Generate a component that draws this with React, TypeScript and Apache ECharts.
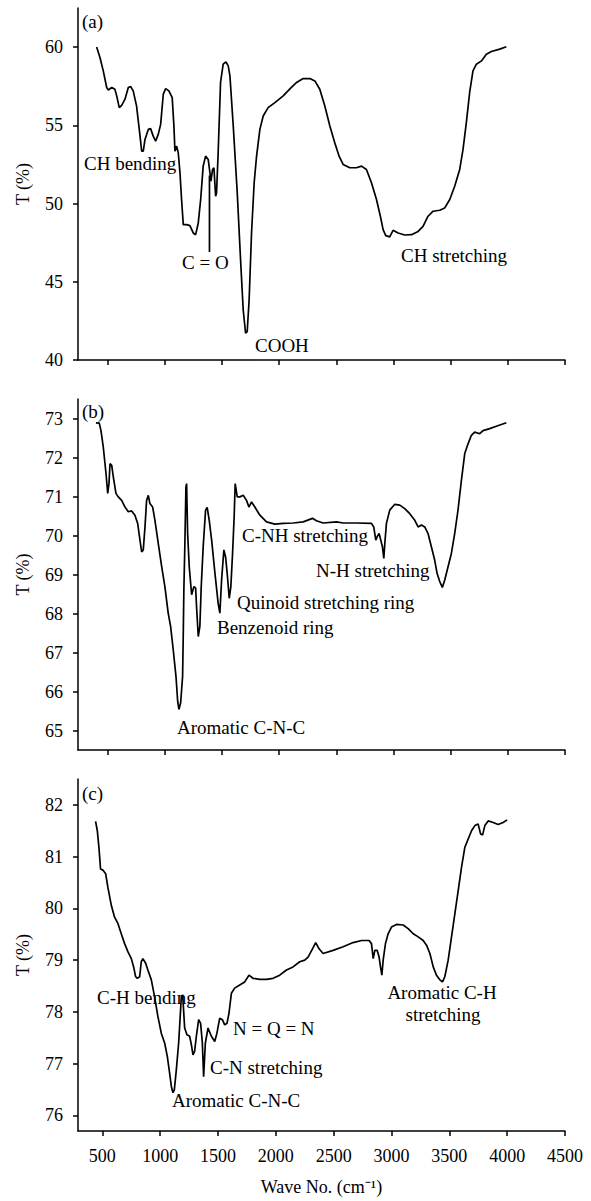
import React, { useEffect, useRef } from "react";
import * as echarts from "echarts";

// ---------- Data ----------
// Panel (a)
const waveA = [403, 432, 461, 491, 505, 535, 563, 578, 601, 622, 651, 680, 700, 723, 752, 776, 797, 811, 826, 855, 875, 898, 919, 942, 963, 986, 1007, 1035, 1064, 1079, 1088, 1103, 1117, 1132, 1146, 1161, 1190, 1219, 1248, 1269, 1292, 1313, 1335, 1356, 1379, 1394, 1403, 1417, 1429, 1444, 1452, 1466, 1487, 1510, 1534, 1554, 1569, 1598, 1633, 1662, 1685, 1706, 1720, 1737, 1758, 1781, 1802, 1831, 1860, 1903, 1962, 2035, 2100, 2152, 2210, 2268, 2312, 2355, 2399, 2443, 2486, 2524, 2559, 2618, 2676, 2720, 2763, 2807, 2851, 2885, 2909, 2932, 2967, 2996, 3040, 3098, 3157, 3215, 3258, 3302, 3346, 3404, 3448, 3492, 3535, 3579, 3608, 3637, 3666, 3695, 3725, 3769, 3812, 3856, 3929, 3987];
const transA = [60.0, 59.34, 58.48, 57.42, 57.26, 57.42, 57.3, 56.9, 56.13, 56.28, 56.67, 57.42, 57.48, 57.2, 56.24, 54.74, 53.35, 53.35, 54.1, 54.74, 54.79, 54.31, 53.99, 54.42, 55.06, 56.99, 57.35, 57.2, 56.77, 54.96, 53.35, 53.67, 53.25, 51.97, 50.26, 48.65, 48.65, 48.59, 48.12, 48.01, 48.76, 50.26, 52.39, 53.03, 52.82, 51.97, 51.43, 52.18, 52.29, 50.47, 50.69, 53.25, 57.74, 58.91, 59.06, 58.8, 58.16, 54.96, 50.69, 46.41, 43.21, 41.71, 41.81, 43.85, 48.12, 51.33, 53.03, 54.74, 55.6, 56.13, 56.45, 56.88, 57.38, 57.74, 57.99, 57.99, 57.84, 57.31, 56.24, 54.96, 53.89, 53.03, 52.5, 52.29, 52.29, 52.39, 52.18, 51.33, 50.26, 49.19, 48.33, 47.95, 47.87, 48.29, 48.12, 47.99, 48.01, 48.22, 48.54, 49.19, 49.51, 49.57, 49.72, 50.26, 51.11, 52.18, 53.46, 55.17, 57.1, 58.48, 58.91, 59.12, 59.55, 59.72, 59.87, 60.02];
const markerWaveA = [1390, 1390];
const markerTransA = [51.8, 46.9];

// Panel (b)
const waveB = [397, 426, 441, 461, 485, 500, 511, 520, 535, 549, 572, 592, 622, 651, 680, 709, 738, 762, 782, 797, 811, 826, 840, 855, 869, 893, 913, 942, 972, 1000, 1029, 1050, 1073, 1097, 1112, 1123, 1138, 1155, 1161, 1166, 1175, 1184, 1190, 1199, 1213, 1234, 1254, 1269, 1277, 1292, 1306, 1318, 1335, 1356, 1370, 1388, 1409, 1438, 1466, 1481, 1496, 1516, 1531, 1545, 1563, 1577, 1592, 1606, 1615, 1633, 1656, 1685, 1714, 1735, 1758, 1787, 1831, 1889, 1962, 2035, 2122, 2210, 2291, 2326, 2384, 2501, 2559, 2676, 2807, 2827, 2845, 2857, 2874, 2903, 2915, 2924, 2938, 2967, 3011, 3055, 3098, 3142, 3186, 3215, 3244, 3273, 3302, 3331, 3360, 3381, 3404, 3427, 3448, 3477, 3506, 3535, 3564, 3594, 3623, 3652, 3681, 3710, 3754, 3783, 3841, 3899, 3987];
const transB = [72.89, 72.88, 72.69, 72.27, 71.59, 71.08, 71.33, 71.84, 71.8, 71.5, 71.08, 70.99, 70.9, 70.73, 70.61, 70.63, 70.52, 70.31, 69.88, 69.58, 69.63, 70.22, 70.9, 71.03, 70.82, 70.73, 70.39, 69.8, 69.2, 68.69, 68.01, 67.67, 67.07, 66.39, 65.75, 65.54, 65.71, 66.39, 67.5, 68.6, 69.8, 71.24, 71.33, 70.05, 69.2, 68.48, 68.69, 68.65, 68.18, 67.41, 67.67, 68.69, 69.71, 70.65, 70.72, 70.39, 69.88, 69.03, 68.26, 68.01, 68.86, 69.63, 69.45, 69.03, 68.39, 68.69, 69.54, 70.48, 71.33, 70.99, 70.99, 71.03, 70.9, 70.73, 70.86, 70.73, 70.52, 70.35, 70.29, 70.31, 70.32, 70.35, 70.44, 70.38, 70.32, 70.35, 70.32, 70.32, 70.31, 70.22, 69.88, 69.97, 70.05, 69.71, 69.41, 69.8, 70.31, 70.65, 70.8, 70.78, 70.69, 70.56, 70.39, 70.22, 70.27, 70.22, 70.05, 69.71, 69.37, 69.03, 68.82, 68.67, 68.86, 69.2, 69.54, 70.05, 70.65, 71.42, 72.1, 72.35, 72.57, 72.65, 72.61, 72.69, 72.74, 72.8, 72.89];

// Panel (c)
const waveC = [442, 457, 471, 485, 505, 529, 548, 578, 606, 635, 664, 693, 722, 751, 771, 788, 803, 823, 837, 851, 875, 894, 924, 952, 981, 1010, 1039, 1062, 1082, 1097, 1111, 1123, 1140, 1160, 1175, 1183, 1195, 1212, 1232, 1255, 1270, 1284, 1298, 1313, 1333, 1350, 1365, 1376, 1391, 1414, 1443, 1472, 1491, 1515, 1538, 1558, 1578, 1595, 1616, 1644, 1688, 1731, 1768, 1803, 1861, 1919, 1976, 2034, 2092, 2149, 2207, 2250, 2279, 2317, 2345, 2374, 2409, 2495, 2582, 2668, 2741, 2806, 2827, 2842, 2856, 2876, 2893, 2905, 2917, 2928, 2948, 2971, 3000, 3043, 3101, 3144, 3188, 3231, 3274, 3303, 3332, 3361, 3389, 3418, 3441, 3461, 3490, 3519, 3548, 3577, 3605, 3634, 3663, 3692, 3721, 3749, 3770, 3788, 3807, 3836, 3879, 3922, 3965, 4000];
const transC = [81.68, 81.5, 81.18, 80.76, 80.74, 80.67, 80.41, 80.06, 79.83, 79.71, 79.51, 79.32, 79.16, 79.03, 78.87, 78.68, 78.65, 78.68, 78.97, 79.03, 78.94, 78.81, 78.62, 78.29, 77.91, 77.59, 77.4, 77.14, 76.82, 76.56, 76.44, 76.5, 76.88, 77.4, 77.97, 78.29, 78.33, 77.69, 77.56, 77.53, 77.37, 77.17, 77.24, 77.53, 77.85, 77.78, 77.4, 76.75, 77.4, 77.69, 77.53, 77.43, 77.59, 77.88, 77.85, 77.75, 77.78, 77.97, 78.36, 78.46, 78.52, 78.58, 78.71, 78.65, 78.63, 78.63, 78.65, 78.71, 78.81, 78.87, 78.97, 79.0, 79.06, 79.22, 79.34, 79.22, 79.13, 79.19, 79.26, 79.34, 79.38, 79.38, 79.32, 79.03, 79.19, 79.19, 79.06, 78.87, 78.71, 79.0, 79.32, 79.51, 79.64, 79.69, 79.68, 79.61, 79.51, 79.45, 79.38, 79.29, 79.13, 78.87, 78.71, 78.62, 78.58, 78.68, 79.0, 79.45, 79.9, 80.35, 80.79, 81.18, 81.34, 81.5, 81.6, 81.63, 81.44, 81.42, 81.6, 81.69, 81.66, 81.62, 81.66, 81.71];

// Ticks
const xTicks = [500, 1000, 1500, 2000, 2500, 3000, 3500, 4000, 4500];
const yTicksA = [40, 45, 50, 55, 60];
const yTicksB = [65, 66, 67, 68, 69, 70, 71, 72, 73];
const yTicksC = [76, 77, 78, 79, 80, 81, 82];

// Text
const panelLabels = ["(a)", "(b)", "(c)"];
const yTitle = "T (%)";
const xTitle = "Wave No. (cm\u207B\u00B9)";

const FONT = "'Liberation Serif', 'Times New Roman', serif";

const zip = (xs: number[], ys: number[]) => xs.map((x, i) => [x, ys[i]]);

export default function App() {
  const ref = useRef<HTMLDivElement>(null);

  useEffect(() => {
    document.body.style.margin = "0";
    if (!ref.current) return;
    const chart = echarts.init(ref.current, undefined, { renderer: "svg" });

    const grids = [
      { left: 78, width: 487, top: 8, height: 352 },
      { left: 78, width: 487, top: 399, height: 351 },
      { left: 78, width: 487, top: 779, height: 352 },
    ];
    const xMins = [240, 240, 290];
    const yRanges = [
      [40, 62.5],
      [64.5, 73.5],
      [75.7, 82.5],
    ];
    const yTicks = [yTicksA, yTicksB, yTicksC];

    const axisLine = { show: true, lineStyle: { color: "#000", width: 1.5 } };

    const xAxis = grids.map((_, i) => ({
      type: "value",
      gridIndex: i,
      min: xMins[i],
      max: 4500,
      axisLine,
      axisTick: { show: true, length: 5, customValues: xTicks, lineStyle: { color: "#000", width: 1.5 } },
      axisLabel: {
        show: i === 2,
        customValues: xTicks,
        formatter: (v: number) => String(v),
        fontSize: 18,
        fontFamily: FONT,
        color: "#000",
        margin: 16,
      },
      splitLine: { show: false },
      name: i === 2 ? xTitle : "",
      nameLocation: "middle",
      nameGap: 47,
      nameTextStyle: { fontSize: 18, fontFamily: FONT, color: "#000" },
    }));

    const yAxis = grids.map((_, i) => ({
      type: "value",
      gridIndex: i,
      min: yRanges[i][0],
      max: yRanges[i][1],
      axisLine,
      axisTick: { show: true, length: 5, customValues: yTicks[i], lineStyle: { color: "#000", width: 1.5 } },
      axisLabel: {
        customValues: yTicks[i],
        formatter: (v: number) => String(v),
        fontSize: 18,
        fontFamily: FONT,
        color: "#000",
        margin: 15,
      },
      splitLine: { show: false },
      name: yTitle,
      nameLocation: "middle",
      nameGap: 46,
      nameTextStyle: { fontSize: 18, fontFamily: FONT, color: "#000" },
    }));

    const lineSeries = (data: number[][], i: number) => ({
      type: "line",
      xAxisIndex: i,
      yAxisIndex: i,
      data,
      symbol: "none",
      showSymbol: false,
      lineStyle: { color: "#000", width: 1.7 },
      silent: true,
    });

    const txt = (text: string, left: number, top: number, align = "left") => ({
      type: "text",
      x: left,
      y: top,
      style: {
        text,
        fill: "#000",
        font: `19px ${FONT}`,
        textAlign: align,
        textVerticalAlign: "middle",
      },
    });

    const graphics = [
      txt(panelLabels[0], 82, 21),
      txt(panelLabels[1], 82, 411),
      txt(panelLabels[2], 82, 793),
      // (a)
      txt("CH bending", 84, 163),
      txt("C = O", 182, 262),
      txt("COOH", 255, 345),
      txt("CH stretching", 401, 255),
      // (b)
      txt("C-NH stretching", 242, 535),
      txt("N-H stretching", 316, 570),
      txt("Quinoid stretching ring", 237, 602),
      txt("Benzenoid ring", 217, 627),
      txt("Aromatic C-N-C", 177, 727),
      // (c)
      txt("C-H bending", 97, 997),
      txt("N = Q = N", 233, 1028),
      txt("C-N stretching", 210, 1067),
      txt("Aromatic C-N-C", 172, 1100),
      txt("Aromatic C-H", 442, 992, "center"),
      txt("stretching", 443, 1014, "center"),
    ];

    chart.setOption({
      animation: false,
      backgroundColor: "#fff",
      grid: grids,
      xAxis,
      yAxis,
      series: [
        lineSeries(zip(waveA, transA), 0),
        lineSeries(zip(markerWaveA, markerTransA), 0),
        lineSeries(zip(waveB, transB), 1),
        lineSeries(zip(waveC, transC), 2),
      ],
      graphic: graphics,
    });

    return () => chart.dispose();
  }, []);

  return <div ref={ref} style={{ width: 591, height: 1201 }} />;
}
